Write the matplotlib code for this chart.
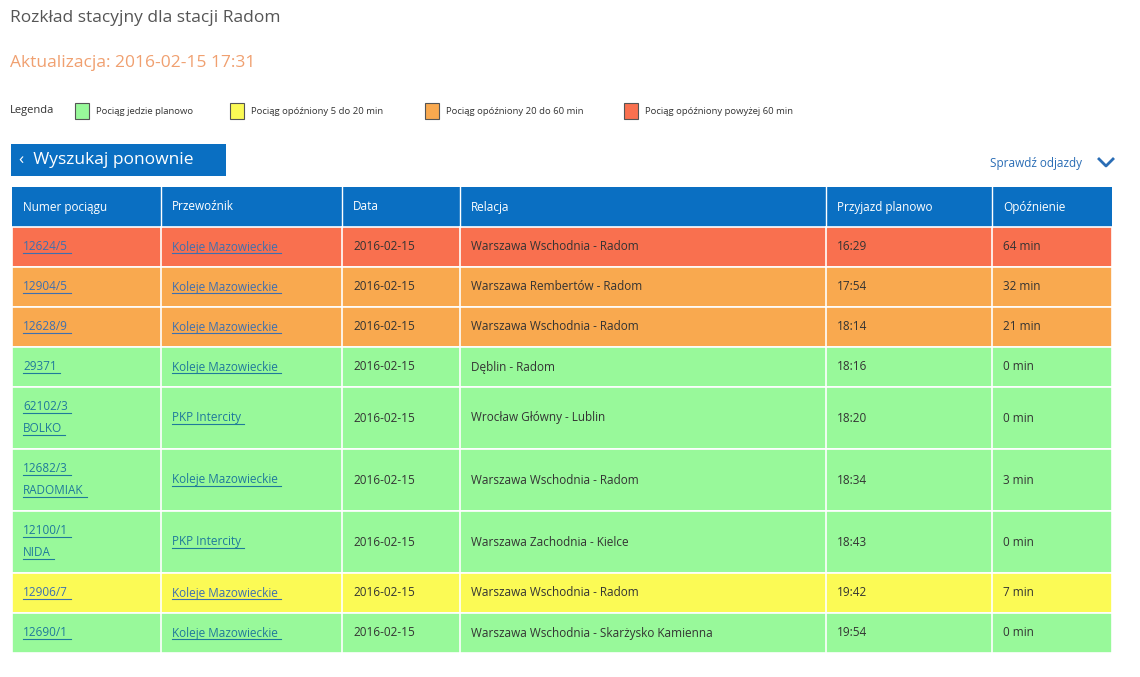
import matplotlib
matplotlib.use("Agg")
import matplotlib.pyplot as plt
from matplotlib.patches import Rectangle

plt.rcParams["font.family"] = "Open Sans"

# ---- data ----
HEADERS = ["Numer pociągu", "Przewoźnik", "Data", "Relacja", "Przyjazd planowo", "Opóźnienie"]
TRAIN = ["12624/5", "12904/5", "12628/9", "29371", "62102/3\nBOLKO", "12682/3\nRADOMIAK",
         "12100/1\nNIDA", "12906/7", "12690/1"]
CARRIER = ["Koleje Mazowieckie", "Koleje Mazowieckie", "Koleje Mazowieckie", "Koleje Mazowieckie",
           "PKP Intercity", "Koleje Mazowieckie", "PKP Intercity", "Koleje Mazowieckie",
           "Koleje Mazowieckie"]
DATE = ["2016-02-15"] * 9
ROUTE = ["Warszawa Wschodnia - Radom", "Warszawa Rembertów - Radom", "Warszawa Wschodnia - Radom",
         "Dęblin - Radom", "Wrocław Główny - Lublin", "Warszawa Wschodnia - Radom",
         "Warszawa Zachodnia - Kielce", "Warszawa Wschodnia - Radom",
         "Warszawa Wschodnia - Skarżysko Kamienna"]
ARRIVAL = ["16:29", "17:54", "18:14", "18:16", "18:20", "18:34", "18:43", "19:42", "19:54"]
DELAY = [64, 32, 21, 0, 0, 3, 0, 7, 0]
LEGEND = ["Pociąg jedzie planowo", "Pociąg opóźniony 5 do 20 min",
          "Pociąg opóźniony 20 do 60 min", "Pociąg opóźniony powyżej 60 min"]

GREEN, YELLOW, ORANGE, RED = "#98f99a", "#fbfa55", "#f9a94f", "#f9704f"
BLUE = "#0a6fc2"

def row_color(d):
    if d > 60: return RED
    if d >= 20: return ORANGE
    if d >= 5: return YELLOW
    return GREEN

W, H = 1140, 677
fig = plt.figure(figsize=(W / 100, H / 100), dpi=100)
ax = fig.add_axes([0, 0, 1, 1])
ax.set_xlim(0, W); ax.set_ylim(H, 0); ax.axis("off")

ax.text(10, 18, "Rozkład stacyjny dla stacji Radom", fontsize=12.5, color="#555", va="center")
ax.text(10, 63, "Aktualizacja: 2016-02-15 17:31", fontsize=12.5, color="#f0a070", va="center")

# legend
ax.text(10, 111, "Legenda", fontsize=8, color="#333", va="center")
lx = [75, 230, 425, 624]
for x, lab, c in zip(lx, LEGEND, [GREEN, YELLOW, ORANGE, RED]):
    ax.add_patch(Rectangle((x, 103), 14, 16, facecolor=c, edgecolor="#555", lw=0.8))
    ax.text(x + 21, 111, lab, fontsize=6.8, color="#333", va="center")

# search button
ax.add_patch(Rectangle((11, 144), 215, 32, facecolor=BLUE, edgecolor="none"))
ax.text(19, 160, "‹  Wyszukaj ponownie", fontsize=12.5, color="white", va="center")
ax.text(990, 163, "Sprawdź odjazdy", fontsize=8.5, color="#2a6db5", va="center")
ax.plot([1099, 1106, 1113], [159, 166, 159], color="#2a6db5", lw=2)

# table
cols = [12, 161, 342, 460, 826, 992, 1112]
top = 187
ax.add_patch(Rectangle((cols[0], top), cols[-1] - cols[0], 40, facecolor=BLUE, edgecolor="none"))
for i, h in enumerate(HEADERS):
    ax.text(cols[i] + 11, top + 20, h, fontsize=8.5, color="white", va="center")
for x in cols[1:-1]:
    ax.plot([x, x], [top, top + 40], color="white", lw=1)

underlines = []
y = top + 40
for r in range(len(TRAIN)):
    nl = TRAIN[r].count("\n") + 1
    rh = 40 if nl == 1 else 62
    c = row_color(DELAY[r])
    ax.add_patch(Rectangle((cols[0], y), cols[-1] - cols[0], rh, facecolor=c,
                           edgecolor="white", lw=1.2))
    for x in cols[1:-1]:
        ax.plot([x, x], [y, y + rh], color="white", lw=1.2)
    link = "#3d6fb0" if c != GREEN else "#1f7a9a"
    cy = y + rh / 2
    lines = TRAIN[r].split("\n")
    for k, ln in enumerate(lines):
        ly = cy + (k - (len(lines) - 1) / 2) * 22
        t = ax.text(cols[0] + 11, ly, ln, fontsize=8.5, color=link, va="center")
        underlines.append((t, link))
    t = ax.text(cols[1] + 11, cy, CARRIER[r], fontsize=8.5, color=link, va="center")
    underlines.append((t, link))
    vals = [DATE[r], ROUTE[r], ARRIVAL[r], f"{DELAY[r]} min"]
    for k, v in enumerate(vals):
        ax.text(cols[k + 2] + 11, cy, v, fontsize=8.5, color="#333", va="center")
    y += rh

fig.canvas.draw()
inv = ax.transData.inverted()
for t, col in underlines:
    bb = t.get_window_extent()
    (x0, y0), (x1, _) = inv.transform([[bb.x0, bb.y0], [bb.x1, bb.y1]])
    ax.plot([x0, x1 + 3], [y0 - 1, y0 - 1], color=col, lw=0.8)

fig.savefig("out.png", dpi=100)
